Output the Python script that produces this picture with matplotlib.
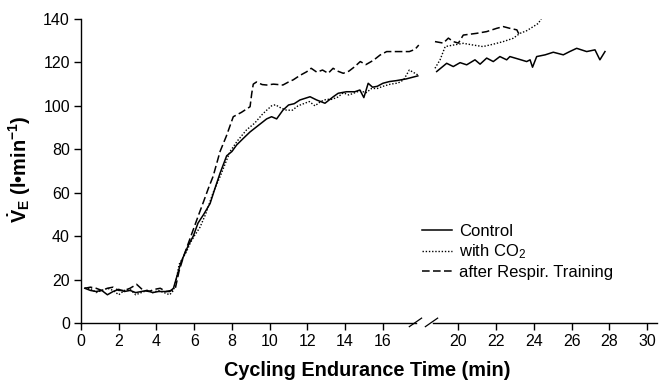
import matplotlib
matplotlib.use("Agg")
import matplotlib.pyplot as plt
import numpy as np

plt.rcParams['font.family'] = ['Liberation Sans', 'DejaVu Sans']
plt.rcParams['mathtext.fontset'] = 'custom'
plt.rcParams['mathtext.rm'] = 'Liberation Sans:bold'
plt.rcParams['mathtext.bf'] = 'Liberation Sans:bold'
plt.rcParams['mathtext.it'] = 'Liberation Sans:bold'

# ---- data (time in min, VE in l/min) ----
control_x1 = [0.2, 0.5, 0.8, 1.1, 1.4, 1.7, 2.0, 2.3, 2.6, 2.9, 3.2, 3.5, 3.8, 4.1, 4.4, 4.7, 4.9,
              5.1, 5.3, 5.5, 5.7, 5.95, 6.2, 6.5, 6.84, 7.1, 7.37, 7.72, 8.0, 8.25, 8.6, 8.96, 9.4,
              9.84, 10.1, 10.37, 10.7, 11.0, 11.3, 11.6, 12.14, 12.49, 12.93, 13.37, 13.63, 14.07,
              14.51, 14.78, 14.99, 15.22, 15.45, 15.7, 16.0, 16.35, 16.7, 17.23, 17.85]
control_y1 = [16, 15, 14.5, 15, 13, 14.5, 15.5, 14.5, 15, 14, 14.5, 15, 14, 14.5, 14.5, 14.5, 16,
              22, 28, 32, 36, 40, 46, 50, 55, 62, 69, 77, 79, 82, 85, 88, 91,
              94, 95, 94, 98, 100.4, 101, 102.7, 104.2, 102.7, 101.2, 104.2, 105.8, 106.5,
              106.5, 107.3, 103.8, 110.4, 108.6, 109, 110.4, 111.2, 111.6, 112.4, 113.8]
control_x2 = [18.85, 19.38, 19.73, 20.09, 20.44, 20.88, 21.15, 21.5, 21.85, 22.2, 22.56, 22.73,
              23.2, 23.62, 23.8, 23.93, 24.15, 24.6, 25.03, 25.56, 25.9, 26.27, 26.8, 27.24,
              27.5, 27.77]
control_y2 = [115.8, 119.6, 118.1, 119.9, 118.9, 121.2, 119.2, 122, 120.4, 122.7, 121.2, 122.7,
              121.5, 120.4, 121.2, 117.8, 122.7, 123.5, 124.7, 123.5, 125, 126.5, 125, 125.8,
              121.2, 125]

co2_x1 = [0.2, 0.5, 0.8, 1.1, 1.4, 1.7, 2.0, 2.3, 2.6, 2.9, 3.2, 3.5, 3.8, 4.1, 4.4, 4.7, 4.9,
          5.05, 5.2, 5.4, 5.6, 5.8, 6.0, 6.3, 6.6, 7.0, 7.4, 7.9, 8.3, 8.78, 9.2, 9.6, 9.84, 10.1,
          10.3, 10.6, 10.9, 11.2, 11.5, 11.8, 12.1, 12.4, 12.7, 13.0, 13.3, 13.6, 13.9, 14.2, 14.5,
          14.8, 15.1, 15.4, 15.7, 16.0, 16.4, 16.8, 17.1, 17.4, 17.7, 17.9]
co2_y1 = [16, 16, 14, 15, 16, 15, 13, 15, 15.5, 13, 14, 15, 14, 15, 14, 13, 15,
          20, 27, 30, 33, 37, 40, 44, 50, 60, 68, 79, 84, 89, 92, 96, 98, 100,
          100.5, 99, 98, 98, 100, 101, 102, 100, 102, 103, 103, 104, 106, 105, 106,
          107, 106, 108, 108, 109, 110, 110.5, 112, 116.5, 115, 114]
co2_x2 = [18.76, 19.03, 19.3, 19.73, 20.26, 20.79, 21.3, 21.85, 22.38, 22.9, 23.27, 23.62,
          23.97, 24.24, 24.4]
co2_y2 = [117.3, 121.2, 127.3, 128, 128.8, 128, 127.3, 128.4, 129.6, 131.1, 133.4, 134.6,
          136.5, 138, 140.3]

train_x1 = [0.2, 0.5, 0.8, 1.1, 1.4, 1.7, 2.0, 2.3, 2.6, 2.95, 3.3, 3.6, 3.9, 4.2, 4.5, 4.8, 5.0,
            5.2, 5.45, 5.7, 5.95, 6.2, 6.5, 6.75, 7.0, 7.37, 7.7, 8.07, 8.5, 8.96, 9.05, 9.13,
            9.3, 9.6, 9.84, 10.2, 10.7, 11.0, 11.25, 11.6, 11.96, 12.2, 12.5, 12.8, 13.1, 13.36,
            13.6, 13.9, 14.2, 14.5, 14.8, 15.1, 15.5, 15.85, 16.2, 16.6, 17.0, 17.4, 17.7, 17.9]
train_y1 = [16, 16.5, 16, 15, 16, 16.5, 15, 15, 16, 17.8, 15, 14.5, 15.5, 16, 14.5, 15, 16,
            24, 31, 37, 43, 49, 56, 62, 67.5, 79, 86, 95, 97, 99.6, 105.8, 110,
            111, 109.8, 109.6, 110, 109.6, 111, 112, 114, 115.7, 117.3, 115.5, 116.5, 115, 117.3,
            116, 115, 116, 118, 120.4, 119, 121, 123.4, 125, 125, 125, 125, 126, 128]
train_x2 = [18.76, 19.2, 19.47, 19.73, 20.0, 20.26, 20.97, 21.5, 22.03, 22.38, 22.73, 23.1, 23.27]
train_y2 = [129.6, 128.9, 131.2, 129.6, 128.9, 132.6, 133.4, 134.2, 135.7, 136.5, 135.7, 135, 131.9]

x_ticks = [0, 2, 4, 6, 8, 10, 12, 14, 16, 20, 22, 24, 26, 28, 30]
y_ticks = [0, 20, 40, 60, 80, 100, 120, 140]
labels = ['Control', 'with CO$_\\mathregular{2}$', 'after Respir. Training']

W, H = 659, 381
fig = plt.figure(figsize=(W / 100, H / 100), dpi=100)
ax = fig.add_axes([81 / W, (H - 323) / H, (656.5 - 81) / W, 304 / H])

lw = 1.1
l1, = ax.plot(control_x1, control_y1, color='black', lw=lw, ls='-')
ax.plot(control_x2, control_y2, color='black', lw=lw, ls='-')
l2, = ax.plot(co2_x1, co2_y1, color='black', lw=1.0, ls=(0, (1, 1.3)))
ax.plot(co2_x2, co2_y2, color='black', lw=1.0, ls=(0, (1, 1.3)))
l3, = ax.plot(train_x1, train_y1, color='black', lw=lw, ls=(0, (5, 2.2)))
ax.plot(train_x2, train_y2, color='black', lw=lw, ls=(0, (5, 2.2)))

ax.set_xlim(0, 30.5)
ax.set_ylim(0, 140)
ax.set_xticks(x_ticks)
ax.set_yticks(y_ticks)
ax.tick_params(axis='both', direction='out', length=5, width=1, labelsize=11.5, pad=3)
for s in ['top', 'right', 'bottom']:
    ax.spines[s].set_visible(False)
ax.spines['left'].set_linewidth(1)

# broken bottom axis
xb1, xb2 = 17.75, 18.65
ax.plot([0, xb1], [0, 0], color='black', lw=1, clip_on=False)
ax.plot([xb2, 30.5], [0, 0], color='black', lw=1, clip_on=False)
bt = ax.get_xaxis_transform()
for xc in (17.7, 18.55):
    ax.plot([xc - 0.3, xc + 0.35], [-0.012, 0.016], color='black', lw=0.9,
            transform=bt, clip_on=False)

ax.set_xlabel('Cycling Endurance Time (min)', fontsize=14.3, fontweight='bold')
ax.xaxis.set_label_coords(0.497, -0.126)
ax.set_ylabel('$\\mathbf{\\dot{V}_E}$ (l\u2022min$^{\\mathbf{-1}}$)', fontsize=14.3, fontweight='bold')
ax.yaxis.set_label_coords(-0.083, 0.505)

leg = ax.legend([l1, l2, l3], labels, loc='upper left',
                bbox_to_anchor=(422 / W, 1 - 224 / H), bbox_transform=fig.transFigure,
                frameon=False, fontsize=12, handlelength=1.8, handletextpad=0.45,
                labelspacing=0.22, borderpad=0, borderaxespad=0)

fig.savefig('out.png', dpi=100, facecolor='white')
